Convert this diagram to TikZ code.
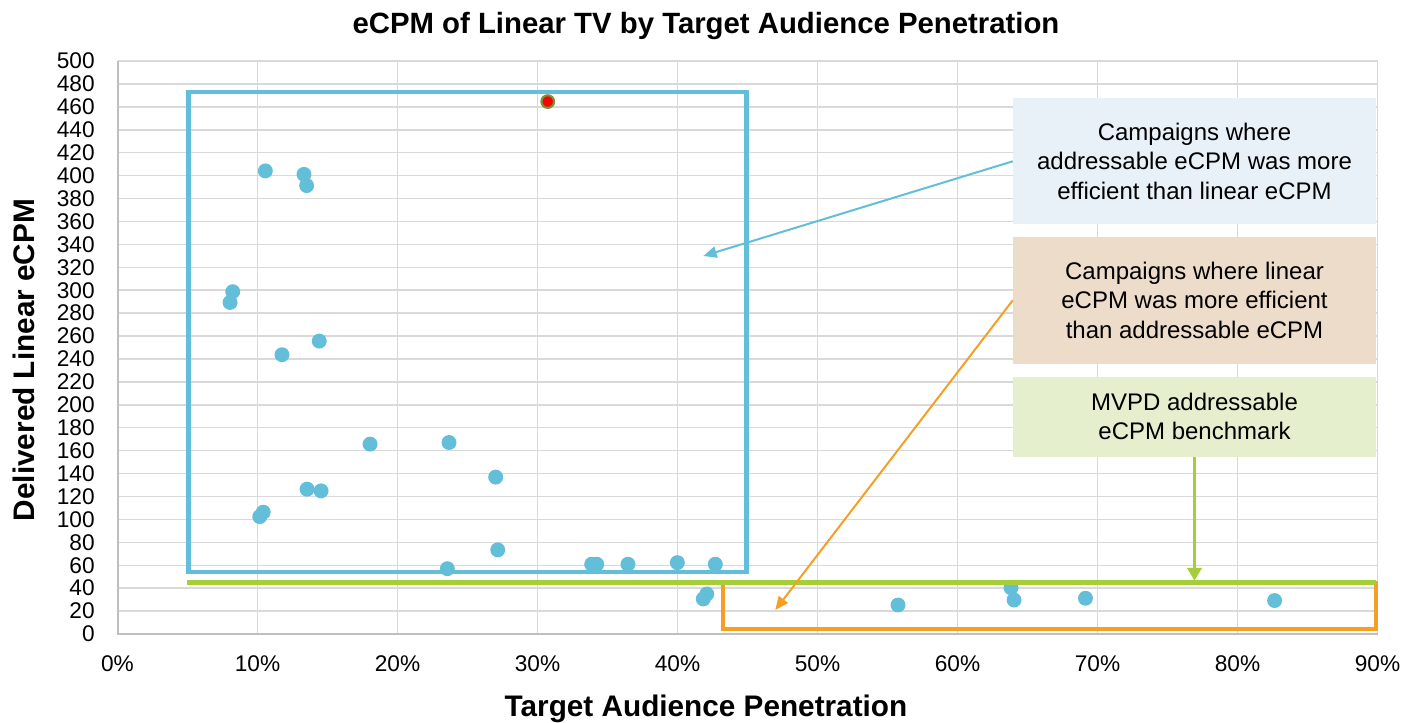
\documentclass[tikz,border=0pt]{standalone}
\usepackage{fontspec}
\setmainfont{Liberation Sans}
\usetikzlibrary{arrows.meta}
\definecolor{ptblue}{HTML}{62BED9}
\definecolor{lgreen}{HTML}{A6CE39}
\definecolor{lorange}{HTML}{F5A025}
\definecolor{fillblue}{HTML}{E8F0F8}
\definecolor{filltan}{HTML}{EDDCCA}
\definecolor{fillgreen}{HTML}{E5EFCE}
\definecolor{gridgray}{HTML}{D9D9D9}
\definecolor{axisgray}{HTML}{BFBFBF}
\definecolor{olivering}{HTML}{77933C}
\begin{document}
\begin{tikzpicture}[x=0.75pt,y=-0.75pt,
  gridline/.style={draw=gridgray,line width=1.1pt},
  axisline/.style={draw=axisgray,line width=1.5pt},
  ticklabel/.style={font=\fontsize{17}{20}\selectfont,inner sep=0pt},
  titletext/.style={font=\fontsize{22}{26}\selectfont\bfseries,inner sep=0pt},
  axtitle/.style={font=\fontsize{22.3}{26}\selectfont\bfseries,inner sep=0pt},
  dot/.style={circle,fill=ptblue,inner sep=0pt,minimum size=11.2pt},
  reddot/.style={circle,fill=red,draw=olivering,line width=1.6pt,inner sep=0pt,minimum size=9.5pt},
  callout/.style={rectangle,inner sep=0pt,minimum width=272.25pt,align=center,
    font=\fontsize{18}{21.9}\selectfont},
  arrowb/.style={draw=ptblue,line width=1.5pt,-{Triangle[length=10pt,width=8.5pt]}},
  arrowo/.style={draw=lorange,line width=1.5pt,-{Triangle[length=10pt,width=8.5pt]}},
  arrowg/.style={draw=lgreen,line width=1.8pt,-{Triangle[length=9.5pt,width=11pt]}}
]
\useasboundingbox (0,0) rectangle (1416,722);
\fill[white] (0,0) rectangle (1416,722);

% titles
\node[titletext,anchor=base] (title) at (706,33) {eCPM of Linear TV by Target Audience Penetration};
\node[axtitle,anchor=base] (xtitle) at (706,716.5) {Target Audience Penetration};
\node[axtitle,anchor=base,rotate=90] (ytitle) at (34,360) {Delivered Linear eCPM};

% grid, axes, tick labels
\begin{scope}[shift={(117.5,634)},x=10.5pt,y=0.8595pt]
  \draw[gridline] (0,0) grid[xstep=10,ystep=20] (90,500);
  \draw[axisline] (0,500) -- (0,0) -- (90,0);
  \foreach \v in {0,20,...,500}
    \node[ticklabel,anchor=east,xshift=-16.9pt] (yl\v) at (0,\v) {\v};
  \foreach \p in {0,10,...,90}
    \node[ticklabel,anchor=base,yshift=-27.75pt] (xl\p) at (\p,0) {\p\%};
\end{scope}

% blue region box
\draw[draw=ptblue,line width=3.4pt] (188.7,92) rectangle (746.7,572);

% data points
\begin{scope}[shift={(117.5,634)},x=10.5pt,y=0.8595pt]
  \foreach \n/\a/\b in {1/10.56/404.1, 2/13.32/401.1, 3/13.51/391.3, 4/8.23/298.7,
      5/8.04/289.3, 6/14.41/255.6, 7/11.75/243.7, 9/18.04/165.7, 10/23.68/167.1,
      11/27.01/136.9, 12/13.54/126.4, 13/14.54/124.9, 14/10.41/106.3, 15/10.16/102.4,
      16/27.16/73.4, 17/23.56/57.0, 18/33.87/60.9, 19/34.23/60.9, 20/36.46/60.9,
      21/39.99/62.3, 22/42.70/60.9, 23/41.84/30.6, 24/42.09/34.9, 25/55.75/25.3,
      26/63.82/40.4, 27/64.04/29.7, 28/69.14/31.2, 29/82.65/29.2}
    \node[dot] (p\n) at (\a,\b) {};
  \node[reddot] (p8) at (30.73,464.6) {};
\end{scope}

% orange region box and green benchmark line
\draw[draw=lorange,line width=3pt] (722.5,583) rectangle (1375.7,628.7);
\draw[draw=lgreen,line width=3.75pt] (187.3,582.7) -- (1376,582.7);

% callouts
\node[callout,fill=fillblue,minimum height=94.5pt] (cb1) at (1194.5,161.3)
  {Campaigns where\\addressable eCPM was more\\efficient than linear eCPM};
\node[callout,fill=filltan,minimum height=95pt] (cb2) at (1194.5,300.3)
  {Campaigns where linear\\eCPM was more efficient\\than addressable eCPM};
\node[callout,fill=fillgreen,minimum height=59.8pt] (cb3) at (1194.5,416.8)
  {MVPD addressable\\eCPM benchmark};

% arrows
\coordinate (tipb) at (703.3,256);
\coordinate (tipo) at (775.3,610);
\coordinate (tipg) at (1194.5,580.5);
\draw[arrowb] (cb1.west) -- (tipb);
\draw[arrowo] (cb2.west) -- (tipo);
\draw[arrowg] (cb3.south) -- (tipg);
\end{tikzpicture}
\end{document}
